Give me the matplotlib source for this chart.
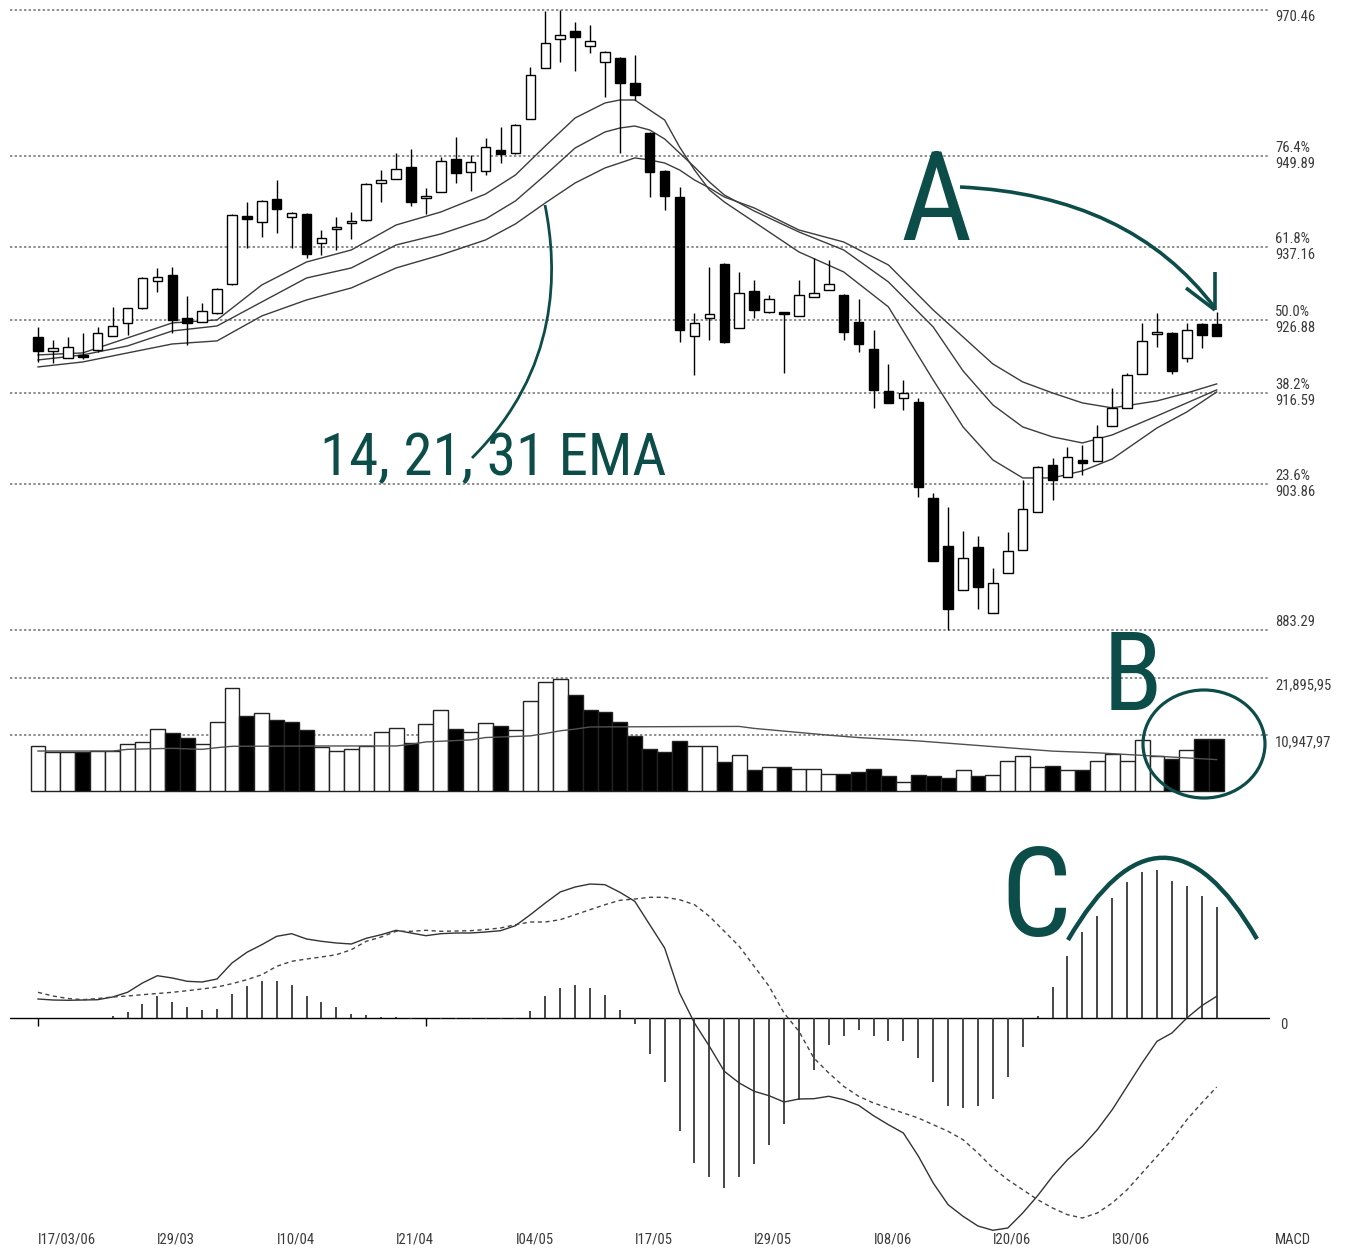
import matplotlib
matplotlib.use("Agg")
import matplotlib.pyplot as plt
import matplotlib.transforms as mtransforms
from matplotlib.patches import Rectangle, Ellipse, PathPatch
from matplotlib.path import Path

# ---------------- data ----------------
opens = [924.49, 922.52, 921.54, 921.96, 922.66, 924.63, 926.46, 928.57, 932.36, 933.20,
         927.16, 926.60, 927.86, 931.94, 941.50, 940.66, 943.89, 941.36, 941.78, 937.70,
         939.67, 940.52, 940.94, 946.14, 946.70, 948.39, 944.03, 944.87, 949.51, 947.69,
         947.83, 950.78, 950.36, 955.14, 962.31, 966.39, 967.51, 965.40, 963.15, 963.72,
         960.20, 953.17, 947.83, 944.17, 924.63, 927.16, 934.75, 925.75, 930.96, 928.00,
         928.00, 927.44, 930.11, 931.10, 930.39, 926.60, 922.80, 916.90, 915.91, 915.35,
         901.85, 895.10, 888.92, 894.96, 885.68, 891.31, 894.54, 899.88, 906.49, 904.80,
         907.19, 907.05, 911.97, 914.51, 919.29, 924.91, 925.05, 921.54, 926.32, 926.32]
highs = [925.89, 924.07, 924.49, 925.05, 925.89, 928.71, 928.57, 932.92, 934.19, 934.33,
         930.25, 929.27, 931.38, 941.78, 943.47, 943.75, 946.56, 942.06, 941.92, 939.53,
         941.36, 942.06, 946.14, 947.97, 950.36, 950.92, 945.44, 949.80, 952.61, 950.08,
         952.47, 954.01, 954.43, 962.45, 970.30, 970.46, 968.78, 968.35, 964.70, 963.86,
         964.14, 953.31, 947.97, 945.58, 927.86, 934.33, 934.89, 933.63, 932.50, 930.39,
         928.00, 932.50, 935.60, 935.31, 930.53, 929.83, 925.47, 920.69, 918.44, 915.91,
         902.55, 900.59, 897.21, 896.51, 892.01, 897.07, 904.38, 906.35, 907.48, 909.02,
         909.30, 912.11, 917.32, 919.43, 926.46, 927.86, 925.19, 926.46, 926.46, 928.00]
lows = [920.97, 920.83, 921.54, 921.40, 922.38, 924.63, 924.77, 928.43, 930.81, 925.05,
        923.36, 926.60, 927.72, 931.80, 937.00, 938.55, 939.11, 937.00, 935.60, 936.02,
        936.72, 938.27, 940.80, 943.47, 946.70, 942.91, 941.78, 944.87, 946.14, 945.02,
        947.26, 948.95, 950.22, 955.14, 962.31, 963.15, 961.89, 964.42, 958.23, 950.36,
        957.81, 944.17, 942.34, 923.78, 919.14, 924.07, 923.64, 925.75, 927.16, 927.86,
        919.43, 927.44, 930.11, 931.10, 924.07, 922.38, 914.51, 915.21, 914.22, 901.99,
        892.99, 883.29, 888.92, 886.24, 885.68, 891.31, 894.54, 899.88, 901.57, 904.80,
        905.08, 907.05, 911.97, 914.51, 919.29, 923.08, 919.29, 920.97, 922.94, 924.63]
closes = [922.52, 922.94, 923.08, 921.68, 925.05, 926.03, 928.57, 932.78, 932.92, 926.88,
          926.46, 928.14, 931.24, 941.64, 941.08, 943.61, 942.48, 941.92, 936.16, 938.41,
          939.81, 940.66, 946.00, 946.56, 948.11, 943.47, 944.17, 949.23, 947.55, 949.09,
          951.20, 950.22, 954.29, 961.32, 965.82, 966.95, 966.67, 966.11, 964.56, 960.20,
          958.51, 947.69, 944.31, 925.47, 926.46, 927.72, 923.78, 930.67, 928.28, 929.83,
          927.72, 930.39, 930.67, 931.94, 925.19, 923.50, 917.04, 915.21, 916.61, 903.40,
          892.99, 886.24, 893.42, 889.34, 889.90, 894.40, 900.30, 906.21, 904.38, 907.62,
          906.77, 910.43, 914.51, 919.14, 923.93, 925.05, 919.71, 925.47, 924.77, 924.63]

# EMA lines read at these candle positions
ema_idx = [0, 3, 6, 9, 12, 15, 18, 21, 24, 27, 30, 32, 34, 36, 38, 39, 40, 41, 42, 43,
           44, 45, 46, 48, 51, 54, 57, 60, 62, 64, 66, 68, 70, 72, 75, 77, 79]
ema14 = [921.96, 922.24, 924.35, 926.46, 926.88, 931.80, 935.03, 936.72, 940.23, 942.06,
         944.59, 947.26, 951.34, 955.28, 957.39, 957.81, 957.81, 956.40, 955.00, 951.20,
         947.97, 945.16, 943.47, 940.66, 936.44, 933.63, 928.71, 918.44, 911.83, 907.19,
         904.66, 904.66, 905.65, 907.33, 911.69, 913.94, 916.75]
ema21 = [921.25, 921.96, 923.22, 925.33, 926.03, 929.41, 932.78, 934.19, 937.42, 938.97,
         941.08, 943.61, 947.26, 951.06, 953.31, 953.87, 954.15, 953.59, 952.33, 950.36,
         948.39, 946.28, 944.45, 942.20, 939.25, 936.72, 932.22, 925.89, 919.71, 914.93,
         911.83, 910.43, 909.58, 910.71, 913.38, 915.21, 917.04]
ema31 = [920.27, 920.97, 922.24, 923.50, 923.93, 927.44, 929.69, 931.38, 934.19, 936.02,
         938.13, 940.38, 943.33, 946.14, 948.25, 948.95, 949.66, 949.37, 948.95, 947.97,
         946.56, 945.44, 944.17, 942.63, 939.53, 937.84, 934.61, 928.28, 924.49, 920.69,
         918.16, 916.61, 915.21, 914.51, 915.49, 916.61, 917.88]

price_levels = [970.46, 949.89, 937.16, 926.88, 916.59, 903.86, 883.29]
fib_pcts = ["", "76.4%", "61.8%", "50.0%", "38.2%", "23.6%", ""]

volumes = [8745, 7644, 7644, 7644, 7774, 7774, 9199, 9588, 11985, 11207,
           10235, 9199, 13280, 19953, 14446, 15094, 13734, 13410, 11790, 8551,
           7774, 8098, 8745, 11466, 12114, 9393, 12956, 15742, 11985, 11466,
           13151, 12503, 11790, 17362, 21054, 21702, 18592, 15742, 15224, 13410,
           10689, 8227, 7644, 9717, 8667, 8667, 5604, 6973, 4040, 4757,
           4627, 4301, 4301, 3323, 3389, 3650, 4301, 3063, 1890, 3193,
           2933, 2542, 4040, 3063, 3193, 5800, 6908, 4627, 4823, 4171,
           4171, 5800, 7234, 5930, 9906, 6778, 6321, 8016, 10036, 10036]
vma_idx = [0, 5, 6, 9, 11, 12, 13, 19, 24, 25, 26, 29, 30, 33, 34, 35, 36, 37, 47, 48,
           53, 55, 59, 65, 68, 71, 75, 79]
vma_vals = [7774, 7774, 8098, 8292, 8098, 8421, 8680, 8745, 8745, 9069, 9523, 9911, 10365,
            10689, 11142, 11660, 11984, 12400, 12500, 12121, 10818, 10362, 9710, 8407,
            7755, 7429, 6778, 6126]
vol_levels = [21895.95, 10947.97]

macd = [1.9, 1.8, 1.77, 1.8, 1.83, 2.1, 2.57, 3.5, 4.23, 4.0,
        3.67, 3.6, 3.9, 5.5, 6.57, 7.33, 8.17, 8.43, 7.9, 7.67,
        7.5, 7.4, 7.97, 8.33, 8.77, 8.5, 8.23, 8.43, 8.5, 8.5,
        8.6, 8.73, 9.23, 10.33, 11.5, 12.6, 13.1, 13.4, 13.33, 12.57,
        11.67, 9.33, 7.0, 2.5, -0.5, -2.83, -5.33, -6.5, -7.33, -7.77,
        -8.4, -8.1, -8.07, -7.83, -8.17, -8.73, -9.77, -10.67, -11.5, -13.8,
        -16.5, -18.67, -19.83, -20.8, -21.23, -21.0, -19.5, -17.77, -15.83, -14.17,
        -12.83, -11.17, -9.17, -6.83, -4.5, -2.33, -1.5, 0.0, 1.23, 2.17]
signal = [2.57, 2.2, 1.95, 1.83, 1.95, 2.1, 2.2, 2.33, 2.45, 2.57,
          2.73, 2.9, 3.1, 3.43, 3.83, 4.33, 5.17, 5.67, 5.9, 6.1,
          6.33, 6.83, 7.67, 8.1, 8.67, 8.67, 8.77, 8.67, 8.7, 8.73,
          8.85, 9.0, 9.33, 9.6, 9.6, 9.83, 10.33, 10.83, 11.33, 11.77,
          11.9, 12.07, 12.07, 11.83, 11.33, 10.17, 8.67, 7.17, 5.17, 3.17,
          0.5, -1.33, -4.0, -5.5, -6.83, -7.83, -8.5, -9.0, -9.5, -10.0,
          -10.67, -11.33, -12.17, -13.5, -15.0, -16.17, -17.17, -18.17, -19.0, -19.67,
          -20.0, -19.5, -18.5, -17.17, -15.5, -13.83, -12.17, -10.17, -8.5, -6.9]
hist = [0, 0, 0, 0, 0.05, 0.17, 0.57, 1.43, 2.17, 1.57,
        1.07, 0.83, 0.93, 2.4, 3.17, 3.67, 3.67, 3.33, 2.23, 1.57,
        1.07, 0.43, 0.27, 0.1, 0.1, -0.1, 0, -0.05, -0.1, -0.1,
        -0.05, -0.1, -0.1, 0.67, 2.17, 3.0, 3.27, 3.0, 2.33, 0.77,
        -0.57, -3.6, -6.43, -11.33, -14.5, -15.93, -17.0, -15.93, -14.6, -12.67,
        -10.6, -8.17, -5.17, -2.67, -1.77, -1.17, -1.77, -2.33, -2.27, -4.0,
        -6.43, -8.83, -9.0, -8.83, -8.07, -5.93, -2.9, 0.17, 3.1, 6.23,
        8.6, 10.23, 11.97, 13.57, 14.57, 14.77, 13.67, 13.23, 12.23, 11.1]

date_idx = [0, 8, 16, 24, 32, 40, 48, 56, 64, 72]
date_labels = ["17/03/06", "29/03", "10/04", "21/04", "04/05", "17/05", "29/05", "08/06", "20/06", "30/06"]

# ---------------- layout ----------------
W, H = 1350, 1249
PX0, PX1 = 10, 1270
STEP = 14.92
X_FIRST = 38
XL = ((PX0 - X_FIRST) / STEP, (PX1 - X_FIRST) / STEP)
NARROW = ["Roboto Condensed", "Archivo Narrow", "Liberation Sans", "DejaVu Sans"]
TEAL = "#0d4d49"
GRID = "#7a7a7a"
TXT = "#3a3a3a"

fig = plt.figure(figsize=(13.5, 12.49), dpi=100)
fig.patch.set_facecolor("white")


def rect(top, bottom):
    return [PX0 / W, 1 - bottom / H, (PX1 - PX0) / W, (bottom - top) / H]


ax_p = fig.add_axes(rect(0, 640))
ax_v = fig.add_axes(rect(660, 800))
ax_m = fig.add_axes(rect(840, 1240))
for a in (ax_p, ax_v, ax_m):
    a.set_xlim(*XL)
    a.axis("off")
ax_p.set_ylim(881.87, 971.87)
ax_v.set_ylim(-1633, 25259)
ax_m.set_ylim(-22.2, 17.8)

DOT = (0, (1.4, 1.4))

# ---- price panel ----
for lv in price_levels:
    ax_p.axhline(lv, color=GRID, lw=1.2, ls=DOT, zorder=1)

for e in (ema14, ema21, ema31):
    ax_p.plot(ema_idx, e, color="#3c3c3c", lw=1.0, zorder=2)

for i, (o, h, l, c) in enumerate(zip(opens, highs, lows, closes)):
    ax_p.vlines(i, l, h, color="black", lw=1.0, zorder=3)
    bot = min(o, c)
    ht = max(abs(c - o), 0.25)
    fc = "white" if c >= o else "black"
    ax_p.add_patch(Rectangle((i - 0.32, bot), 0.64, ht, facecolor=fc,
                             edgecolor="black", lw=1.0, zorder=4))

tr_p = mtransforms.blended_transform_factory(fig.transFigure, ax_p.transData)
lx = 1275 / W


def off(tr, dy):
    return mtransforms.offset_copy(tr, fig=fig, x=0, y=dy, units="dots")


LBL = dict(va="center", ha="left", fontsize=10.5, color=TXT, family=NARROW)
for k, (lv, pct) in enumerate(zip(price_levels, fib_pcts)):
    val = f"{lv:.2f}"
    if pct:
        fig.text(lx, lv, pct, transform=off(tr_p, 8), **LBL)
        fig.text(lx, lv, val, transform=off(tr_p, -8), **LBL)
    elif k == 0:
        fig.text(lx, lv, val, transform=off(tr_p, -7), **LBL)
    else:
        fig.text(lx, lv, val, transform=off(tr_p, 8), **LBL)

# ---- volume panel ----
for lv in vol_levels:
    ax_v.axhline(lv, color=GRID, lw=1.2, ls=DOT, zorder=1)
vcol = ["white"] + ["black" if closes[i] < closes[i - 1] else "white" for i in range(1, len(closes))]
ax_v.bar(range(len(volumes)), volumes, width=1.0, color=vcol, edgecolor="#222222",
         lw=1.0, zorder=2)
ax_v.plot(vma_idx, vma_vals, color="#505050", lw=1.0, zorder=3)
tr_v = mtransforms.blended_transform_factory(fig.transFigure, ax_v.transData)
for lv in vol_levels:
    lab = f"{lv:,.2f}".replace(".", ",")
    fig.text(lx, lv, lab, transform=off(tr_v, -8), **LBL)

# ---- MACD panel ----
ax_m.axhline(0, color="black", lw=1.0, zorder=1)
ax_m.vlines([0, 26], -0.8, 0, color="black", lw=1.0)
ax_m.vlines(range(len(hist)), 0, hist, color="#383838", lw=1.3, zorder=2)
ax_m.plot(range(len(macd)), macd, color="#333333", lw=1.0, zorder=3)
ax_m.plot(range(len(signal)), signal, color="#444444", lw=1.0, ls=(0, (3, 2.5)), zorder=3)
tr_m = mtransforms.blended_transform_factory(fig.transFigure, ax_m.transData)
fig.text(1280 / W, 0, "0", transform=off(tr_m, -7), **LBL)

tr_d = mtransforms.blended_transform_factory(ax_m.transData, fig.transFigure)
for di, dl in zip(date_idx, date_labels):
    fig.text(di, 1 - 1240 / H, "I" + dl, transform=tr_d, **LBL)
fig.text(1275 / W, 1 - 1240 / H, "MACD", **LBL)

# ---- annotations (overlay in pixel space) ----
ax_o = fig.add_axes([0, 0, 1, 1], zorder=10)
ax_o.set_xlim(0, W)
ax_o.set_ylim(H, 0)
ax_o.axis("off")
ax_o.patch.set_alpha(0)

ax_o.text(900, 240, "A", fontsize=89, color=TEAL, family=NARROW, va="baseline", ha="left")
ax_o.text(1103, 710, "B", fontsize=79, color=TEAL, family=NARROW, va="baseline", ha="left")
ax_o.text(1000, 936, "C", fontsize=90, color=TEAL, family=NARROW, va="baseline", ha="left")
ax_o.text(320, 475, "14, 21, 31 EMA", fontsize=42.5, color=TEAL, family=NARROW,
          va="baseline", ha="left")

arrow = Path([(960, 187), (1130, 195), (1215, 308)], [Path.MOVETO, Path.CURVE3, Path.CURVE3])
ax_o.add_patch(PathPatch(arrow, fill=False, ec=TEAL, lw=2.6))
ax_o.plot([1215, 1215], [272, 310], color=TEAL, lw=2.6, solid_capstyle="butt")
ax_o.plot([1186, 1215], [288, 310], color=TEAL, lw=2.6, solid_capstyle="butt")

conn = Path([(545, 205), (558, 270), (560, 370), (472, 458)],
            [Path.MOVETO, Path.CURVE4, Path.CURVE4, Path.CURVE4])
ax_o.add_patch(PathPatch(conn, fill=False, ec=TEAL, lw=2.0))

ax_o.add_patch(Ellipse((1204, 744), 122, 108, fill=False, ec=TEAL, lw=2.3))

arc = Path([(1068, 940), (1163, 776), (1257, 939)], [Path.MOVETO, Path.CURVE3, Path.CURVE3])
ax_o.add_patch(PathPatch(arc, fill=False, ec=TEAL, lw=3.2))

fig.savefig("out.png", dpi=100, facecolor="white")
